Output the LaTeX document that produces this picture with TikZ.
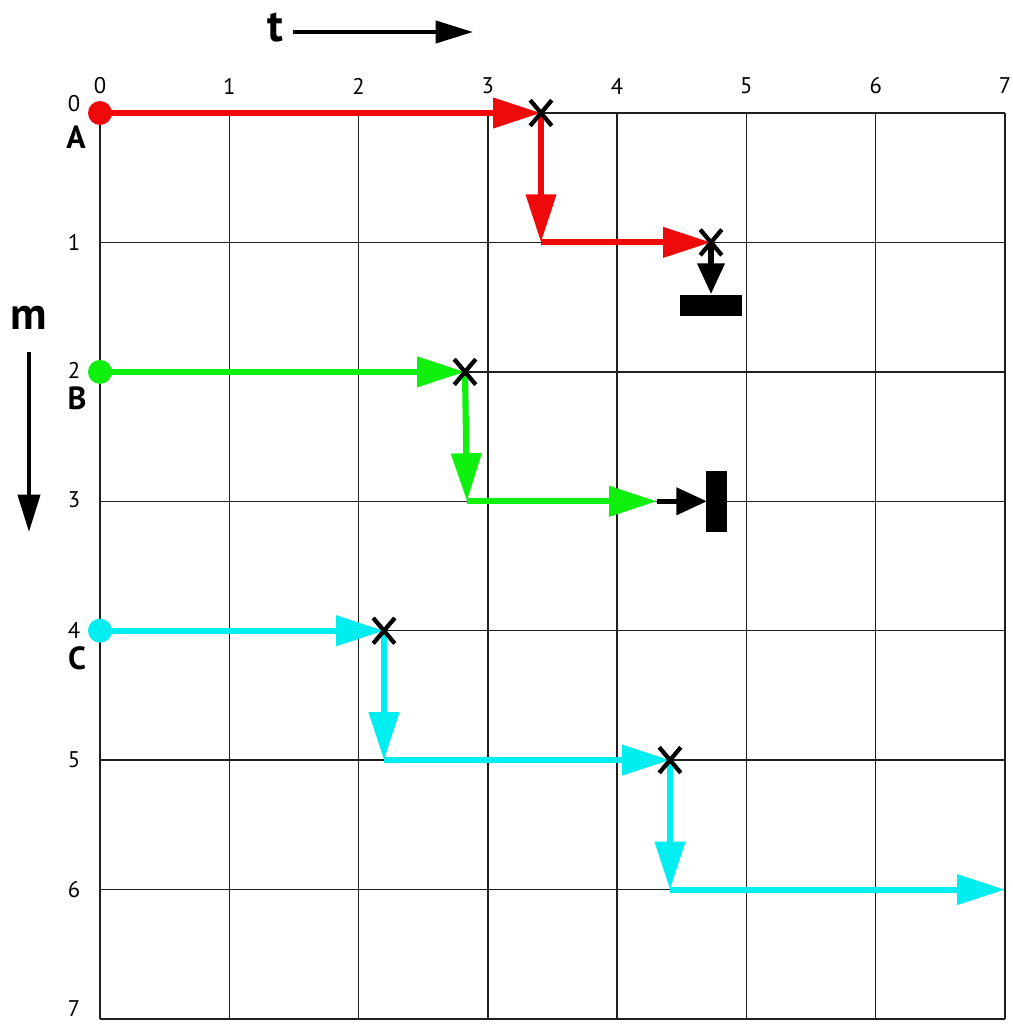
\documentclass[tikz,border=0pt]{standalone}
\usepackage{fontspec}
\setmainfont{PT Sans}
\usetikzlibrary{arrows.meta,shapes.misc}
\definecolor{cred}{RGB}{238,10,10}
\definecolor{cgreen}{RGB}{15,240,15}
\definecolor{ccyan}{RGB}{0,238,240}
\tikzset{
  gridline/.style={line width=1.1pt, draw=black!88},
  colhead/.style={-{Triangle[length=36pt,width=22pt]}},
  pathline/.style={line width=4.6pt, colhead},
  blackarrow/.style={line width=3.8pt, draw=black, -{Triangle[length=23pt,width=20pt]}},
  axisarrow/.style={line width=3pt, draw=black, -{Triangle[length=28pt,width=16.5pt]}},
  xmark/.style={cross out, draw=black, line width=3.2pt, minimum width=13pt, minimum height=16pt, inner sep=0pt},
  startdot/.style={circle, inner sep=0pt, minimum size=18pt},
  bar/.style={fill=black, inner sep=0pt},
  toplab/.style={font=\fontsize{17}{17}\selectfont},
  sidelab/.style={font=\fontsize{17}{17}\selectfont},
  letter/.style={font=\fontsize{24}{24}\selectfont\bfseries},
  axislab/.style={font=\fontsize{34}{34}\selectfont\bfseries},
}
\begin{document}
\begin{tikzpicture}[x=0.75pt,y=-0.75pt]
\useasboundingbox (0,0) rectangle (1013,1024);
% grid
\foreach \i/\x in {0/100,1/229.3,2/358.6,3/487.9,4/617.1,5/746.4,6/875.7,7/1005}{
  \draw[gridline] (\x,113) -- (\x,1019);
  \node[toplab] (tl\i) at (\x,86) {\i};
}
\foreach \j/\y in {0/113,1/242.4,2/371.9,3/501.3,4/630.7,5/760.1,6/889.6,7/1019}{
  \draw[gridline] (100,\y) -- (1005,\y);
}
\foreach \j/\y in {0/104,1/242.4,2/370,3/500,4/630,5/760,6/889.6,7/1009}{
  \node[sidelab] (sl\j) at (74,\y) {\j};
}
% axis labels
\node[axislab] (t) at (275,28) {t};
\coordinate (ts) at (293,32);
\coordinate (te) at (473,32);
\draw[axisarrow] (ts) -- (te);
\node[axislab] (m) at (29,318) {m};
\coordinate (ms) at (29,352);
\coordinate (me) at (29,532);
\draw[axisarrow] (ms) -- (me);
% letters
\node[letter] (lA) at (76,137) {A};
\node[letter] (lB) at (77,398) {B};
\node[letter] (lC) at (77,658) {C};

% ---- red
\node[startdot, fill=cred] (A) at (100,113) {};
\coordinate (Ax1) at (541,113);
\coordinate (Ac1) at (541,242.4);
\coordinate (Ax2) at (711,242.4);
\coordinate (Aend) at (711,294);
\draw[pathline, cred] (A.center) -- (Ax1);
\draw[pathline, cred] (Ax1) -- (Ac1);
\draw[pathline, cred] (Ac1) -- (Ax2);
\draw[blackarrow] (Ax2) -- (Aend);
\node[bar, minimum width=46.5pt, minimum height=15.5pt] (Abar) at (711,305.5) {};
\node[xmark] (XA1) at (Ax1) {};
\node[xmark] (XA2) at (Ax2) {};

% ---- green
\node[startdot, fill=cgreen] (B) at (100,371.9) {};
\coordinate (Bx1) at (465,371.9);
\coordinate (Bc1) at (467,501.3);
\coordinate (Bm) at (657,501.3);
\coordinate (Bend) at (707,501.3);
\draw[pathline, cgreen] (B.center) -- (Bx1);
\draw[pathline, cgreen] (Bx1) -- (Bc1);
\draw[pathline, cgreen] (Bc1) -- (Bm);
\draw[blackarrow] (Bm) -- (Bend);
\node[bar, minimum width=15.75pt, minimum height=46pt] (Bbar) at (716.5,501.5) {};
\node[xmark] (XB1) at (Bx1) {};

% ---- cyan
\node[startdot, fill=ccyan] (C) at (100,630.7) {};
\coordinate (Cx1) at (384,630.7);
\coordinate (Cc1) at (384,760.1);
\coordinate (Cx2) at (670,760.1);
\coordinate (Cc2) at (670,889.6);
\coordinate (Cend) at (1005,889.6);
\draw[pathline, ccyan] (C.center) -- (Cx1);
\draw[pathline, ccyan] (Cx1) -- (Cc1);
\draw[pathline, ccyan] (Cc1) -- (Cx2);
\draw[pathline, ccyan] (Cx2) -- (Cc2);
\draw[pathline, ccyan] (Cc2) -- (Cend);
\node[xmark] (XC1) at (Cx1) {};
\node[xmark] (XC2) at (Cx2) {};
\end{tikzpicture}
\end{document}
